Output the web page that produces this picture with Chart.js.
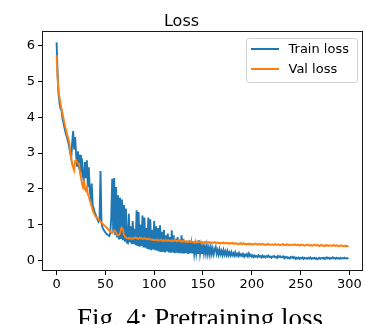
<!DOCTYPE html>
<html><head><meta charset="utf-8">
<script src="https://cdn.jsdelivr.net/npm/chart.js@4.4.1/dist/chart.umd.min.js"></script>
<style>
html,body{margin:0;padding:0;background:#fff;overflow:hidden;}
#wrap{position:relative;width:366px;height:324px;overflow:hidden;}
#c{position:absolute;left:0;top:0;}
#legend{position:absolute;left:245.5px;top:38px;width:110px;height:43px;border:1px solid #d3d3d3;border-radius:3px;background:rgba(255,255,255,0.8);font-family:"DejaVu Sans";font-size:13px;color:#000;}
.row{position:absolute;left:0;height:16px;line-height:16px;width:108px;}
.sw{position:absolute;left:4.5px;top:7px;width:28px;height:2px;}
.lbl{position:absolute;left:42px;top:0;white-space:nowrap;}
#caption{position:absolute;left:0;width:400px;top:305px;text-align:center;font-family:"Liberation Serif";font-size:27px;line-height:27px;white-space:nowrap;color:#000;}
</style>
</head>
<body>
<div id="wrap">
<canvas id="c" width="366" height="324"></canvas>
<div id="legend">
  <div class="row" style="top:2.3px"><div class="sw" style="background:#1f77b4"></div><div class="lbl">Train loss</div></div>
  <div class="row" style="top:22.3px"><div class="sw" style="background:#ff7f0e"></div><div class="lbl">Val loss</div></div>
</div>
<div id="caption">Fig. 4: Pretraining loss</div>
</div>
<script>
const trainLoss = [
6.10,5.25,4.65,4.40,4.25,4.20,3.98,3.85,3.72,3.60,
3.50,3.40,3.30,3.15,3.00,2.85,3.30,3.62,3.10,3.45,
2.95,2.62,3.05,2.55,2.95,2.45,2.85,2.35,2.20,2.75,
2.30,2.80,2.05,2.60,1.95,1.75,2.15,1.55,1.45,1.35,
1.28,1.20,1.14,1.08,1.12,2.50,1.05,0.92,0.86,0.82,
0.78,0.74,0.72,0.70,0.68,0.76,1.20,2.28,0.80,2.30,
0.70,2.05,0.64,1.82,0.58,1.75,0.62,1.70,0.56,1.55,
0.52,1.45,0.50,0.48,1.30,0.50,0.95,0.45,1.10,0.46,
0.88,0.42,1.40,0.40,1.35,0.38,1.00,0.40,1.25,0.36,
1.20,0.35,0.90,0.32,1.20,0.30,1.15,0.28,0.85,0.30,
1.10,0.28,0.95,0.27,0.90,0.25,0.98,0.26,0.80,0.24,
0.85,0.22,0.70,0.25,0.75,0.22,0.65,0.21,0.84,0.22,
0.70,0.20,0.60,0.21,0.65,0.20,0.55,0.20,0.70,0.19,
0.60,0.19,0.52,0.20,0.50,0.18,0.55,0.20,0.45,0.19,
0.50,0.19,0.42,0.20,0.48,0.18,0.56,0.19,0.40,0.20,
0.45,0.20,0.38,0.19,0.40,0.18,0.35,0.17,0.36,0.18,
0.33,0.17,0.30,0.37,0.18,0.28,0.16,0.30,0.17,0.26,
0.15,0.28,0.16,0.25,0.15,0.26,0.14,0.22,0.14,0.23,
0.14,0.20,0.13,0.22,0.13,0.18,0.12,0.20,0.13,0.17,
0.12,0.18,0.13,0.16,0.12,0.17,0.11,0.19,0.12,0.15,
0.10,0.14,0.09,0.13,0.10,0.12,0.09,0.14,0.10,0.12,
0.08,0.13,0.09,0.11,0.08,0.12,0.10,0.13,0.09,0.10,
0.07,0.11,0.10,0.12,0.08,0.10,0.07,0.12,0.09,0.11,
0.08,0.09,0.11,0.08,0.10,0.07,0.09,0.06,0.08,0.05,
0.09,0.07,0.10,0.06,0.08,0.04,0.07,0.05,0.08,0.04,
0.06,0.05,0.08,0.04,0.07,0.05,0.06,0.04,0.07,0.05,
0.08,0.04,0.06,0.05,0.07,0.04,0.06,0.03,0.05,0.07,
0.04,0.06,0.05,0.07,0.04,0.06,0.05,0.08,0.05,0.07,
0.04,0.06,0.05,0.08,0.05,0.06,0.04,0.07,0.05,0.06,
0.04,0.07,0.05,0.06,0.05,0.07,0.05,0.06,0.05,0.07
];
const valLoss = [
5.74,5.10,4.75,4.55,4.40,4.25,4.12,3.98,3.85,3.72,
3.62,3.50,3.40,3.30,3.05,2.85,2.72,2.60,2.52,2.78,
2.80,2.74,2.72,2.70,2.45,2.30,2.15,2.05,2.20,2.00,
1.95,2.05,1.85,1.78,1.68,1.60,1.50,1.40,1.33,1.27,
1.22,1.20,1.18,1.15,1.12,1.08,1.05,1.03,1.00,0.97,
0.95,0.92,0.90,0.86,0.84,0.80,0.78,0.76,0.80,0.84,
0.82,0.78,0.72,0.70,0.71,0.75,0.88,0.90,0.86,0.72,
0.66,0.64,0.62,0.61,0.63,0.60,0.62,0.61,0.60,0.63,
0.62,0.64,0.61,0.62,0.60,0.63,0.61,0.62,0.60,0.61,
0.62,0.60,0.61,0.59,0.61,0.60,0.58,0.59,0.57,0.58,
0.56,0.57,0.56,0.58,0.55,0.56,0.57,0.55,0.56,0.54,
0.56,0.55,0.57,0.54,0.55,0.56,0.54,0.55,0.53,0.56,
0.54,0.57,0.55,0.53,0.55,0.54,0.56,0.53,0.54,0.52,
0.55,0.53,0.52,0.54,0.53,0.51,0.53,0.52,0.54,0.51,
0.52,0.50,0.52,0.51,0.53,0.50,0.51,0.52,0.50,0.51,
0.49,0.51,0.50,0.52,0.49,0.50,0.51,0.49,0.50,0.48,
0.50,0.49,0.51,0.48,0.49,0.50,0.48,0.49,0.47,0.49,
0.48,0.50,0.47,0.48,0.49,0.47,0.48,0.46,0.48,0.47,
0.49,0.46,0.47,0.48,0.46,0.47,0.45,0.47,0.46,0.48,
0.45,0.46,0.47,0.45,0.46,0.44,0.46,0.45,0.47,0.44,
0.45,0.46,0.44,0.45,0.47,0.45,0.44,0.46,0.45,0.43,
0.45,0.46,0.44,0.45,0.43,0.44,0.46,0.44,0.45,0.43,
0.44,0.45,0.43,0.44,0.46,0.44,0.43,0.45,0.44,0.42,
0.44,0.45,0.43,0.44,0.42,0.43,0.45,0.43,0.44,0.42,
0.43,0.44,0.42,0.43,0.45,0.43,0.42,0.44,0.43,0.41,
0.43,0.44,0.42,0.43,0.41,0.42,0.44,0.42,0.43,0.41,
0.42,0.43,0.41,0.42,0.44,0.42,0.41,0.43,0.42,0.40,
0.42,0.43,0.41,0.42,0.40,0.41,0.43,0.41,0.42,0.40,
0.41,0.42,0.40,0.41,0.43,0.41,0.40,0.42,0.41,0.39,
0.41,0.42,0.40,0.41,0.39,0.40,0.41,0.39,0.40,0.38
];
const epochs = trainLoss.map((_, i) => i);
const xTicks = [0, 50, 100, 150, 200, 250, 300];
const yTicks = [0, 1, 2, 3, 4, 5, 6];

const boxPlugin = {
  id: 'box',
  afterDraw(chart) {
    const a = chart.chartArea, ctx = chart.ctx;
    ctx.save();
    ctx.strokeStyle = '#1a1a1a';
    ctx.lineWidth = 1;
    ctx.strokeRect(Math.round(a.left) + 0.5, Math.round(a.top) - 0.5,
                   Math.round(a.right - a.left) - 1, Math.round(a.bottom - a.top));
    ctx.restore();
  }
};

const tickFont = { family: 'DejaVu Sans', size: 13 };
new Chart(document.getElementById('c'), {
  type: 'line',
  data: {
    datasets: [
      { label: 'Val loss', data: epochs.map((x, i) => ({ x, y: valLoss[i] })),
        borderColor: '#ff7f0e', borderWidth: 1.9, pointRadius: 0, fill: false, tension: 0, order: 0 },
      { label: 'Train loss', data: epochs.map((x, i) => ({ x, y: trainLoss[i] })),
        borderColor: '#1f77b4', borderWidth: 1.9, pointRadius: 0, fill: false, tension: 0, order: 1 }
    ]
  },
  options: {
    responsive: false,
    animation: false,
    devicePixelRatio: 1,
    layout: { padding: { left: 0, right: 3, top: 0, bottom: 0 } },
    plugins: {
      legend: { display: false },
      tooltip: { enabled: false },
      title: { display: true, text: 'Loss', color: '#000',
               font: { family: 'DejaVu Sans', size: 16, weight: 'normal' },
               padding: { top: 12, bottom: 0.8 } }
    },
    scales: {
      x: {
        type: 'linear', min: -14.95, max: 313.95,
        afterBuildTicks: s => { s.ticks = xTicks.map(v => ({ value: v })); },
        afterFit: s => { s.height = 53; },
        ticks: { font: tickFont, color: '#000', padding: 2, maxRotation: 0, autoSkip: false },
        grid: { drawOnChartArea: false, drawTicks: true, tickLength: 4, color: '#000' },
        border: { display: false }
      },
      y: {
        type: 'linear', min: -0.3, max: 6.39,
        afterBuildTicks: s => { s.ticks = yTicks.map(v => ({ value: v })); },
        afterFit: s => { s.width = 42; },
        ticks: { font: tickFont, color: '#000', padding: 3 },
        grid: { drawOnChartArea: false, drawTicks: true, tickLength: 4, color: '#000' },
        border: { display: false }
      }
    }
  },
  plugins: [boxPlugin]
});
</script>
</body></html>
